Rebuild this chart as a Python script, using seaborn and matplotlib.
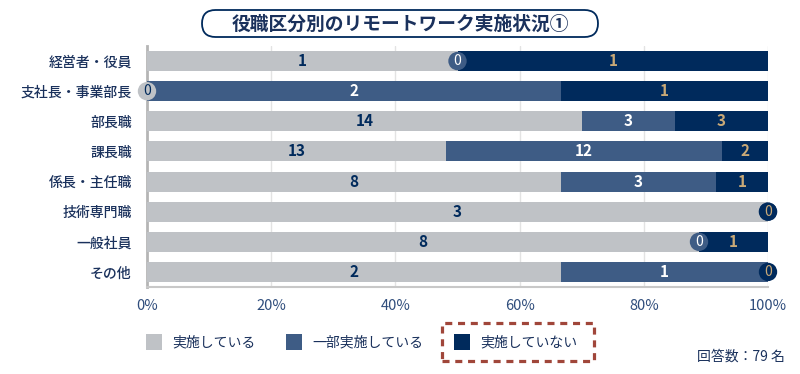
import numpy as np
import pandas as pd
import matplotlib
matplotlib.use("Agg")
import matplotlib.pyplot as plt
from matplotlib.patches import FancyBboxPatch, Rectangle
import seaborn as sns

categories = ["経営者・役員", "支社長・事業部長", "部長職", "課長職", "係長・主任職", "技術専門職", "一般社員", "その他"]
implemented = [1, 0, 14, 13, 8, 3, 8, 2]
partial = [0, 2, 3, 12, 3, 0, 0, 1]
not_impl = [1, 1, 3, 2, 1, 0, 1, 0]
series_names = ["実施している", "一部実施している", "実施していない"]
xtick_labels = ["0%", "20%", "40%", "60%", "80%", "100%"]
title = "役職区分別のリモートワーク実施状況①"
note = "回答数：79 名"

sns.set_theme(style="white")
plt.rcParams["font.family"] = ["Noto Sans CJK JP", "DejaVu Sans"]

C_GRAY = "#bfc2c6"
C_BLUE = "#3e5c85"
C_NAVY = "#002a5c"
C_TAN = "#c9a977"
C_TEXT = "#1a315c"
C_TICK = "#2f4d7c"
label_colors = [C_NAVY, "white", C_TAN]
series_colors = [C_GRAY, C_BLUE, C_NAVY]

vals = np.array([implemented, partial, not_impl], dtype=float)
tot = vals.sum(axis=0)
pct = vals / tot * 100
cum = np.cumsum(pct, axis=0)
left = cum - pct

fig = plt.figure(figsize=(8, 3.74), dpi=100)
ax = fig.add_axes([147 / 800, 1 - 287 / 374, 621 / 800, 241 / 374])

for k in [2, 1, 0]:
    df = pd.DataFrame({"cat": categories, "val": cum[k]})
    sns.barplot(data=df, x="val", y="cat", orient="h", color=series_colors[k],
                saturation=1, width=0.667, ax=ax, zorder=2, linewidth=0)

ax.set_xlim(0, 100)
ax.set_ylim(7.5, -0.5)
ax.set_xticks([0, 20, 40, 60, 80, 100])
ax.set_xticklabels(xtick_labels, fontsize=10.5, color=C_TICK)
ax.set_xlabel("")
ax.set_ylabel("")
ax.tick_params(axis="x", length=0, pad=9)
ax.tick_params(axis="y", length=0, pad=11)
for lab in ax.get_yticklabels():
    lab.set_fontsize(10)
    lab.set_color(C_TEXT)
    lab.set_fontweight("medium")
for x in [20, 40, 60, 80, 100]:
    ax.axvline(x, color="#e3e3e3", lw=1, zorder=0)
for s in ["top", "right"]:
    ax.spines[s].set_visible(False)
ax.spines["left"].set_color("#b5b5b5")
ax.spines["left"].set_linewidth(2)
ax.spines["bottom"].set_color("#c8c8c8")
ax.spines["bottom"].set_linewidth(1.5)
ax.spines["left"].set_zorder(1)

# value labels
for k in range(3):
    for i in range(len(categories)):
        v = vals[k, i]
        if v > 0:
            ax.text(left[k, i] + pct[k, i] / 2, i, f"{int(v)}", ha="center", va="center",
                    fontsize=11, fontweight="bold", color=label_colors[k], zorder=5)
# zero markers
for k in range(3):
    for i in range(len(categories)):
        if vals[k, i] == 0:
            x = left[k, i]
            ax.scatter([x], [i], s=175, color=series_colors[k], edgecolors="none",
                       zorder=6 + k, clip_on=False)
            ax.text(x, i, "0", ha="center", va="center", fontsize=10,
                    color=label_colors[k], zorder=7 + k)

# title box
fig.patches.append(FancyBboxPatch((2.02, 3.37), 3.96, 0.27,
                                  boxstyle="round,pad=0,rounding_size=0.135",
                                  transform=fig.dpi_scale_trans, fc="white",
                                  ec=C_NAVY, lw=1.3))
fig.text(400 / 800, 1 - 24 / 374, title, ha="center", va="center", fontsize=13.5,
         fontweight="bold", color=C_TEXT)

# legend
legend_items = [(146, 172), (286, 312), (454, 480)]
for k, (sx, tx) in enumerate(legend_items):
    fig.patches.append(Rectangle((sx / 100, (374 - 350) / 100), 0.16, 0.16,
                                 transform=fig.dpi_scale_trans, fc=series_colors[k], ec="none"))
    fig.text(tx / 800, 1 - 342 / 374, series_names[k], ha="left", va="center",
             fontsize=10, color=C_TEXT)
fig.patches.append(Rectangle((4.42, (374 - 361) / 100), 1.52, 0.38,
                             transform=fig.dpi_scale_trans, fc="none", ec="#a0463a",
                             lw=2.3, linestyle=(0, (2.2, 1.8))))
fig.text(785 / 800, 1 - 357 / 374, note, ha="right", va="center", fontsize=10, color=C_TEXT)

fig.savefig("out.png", dpi=100)
